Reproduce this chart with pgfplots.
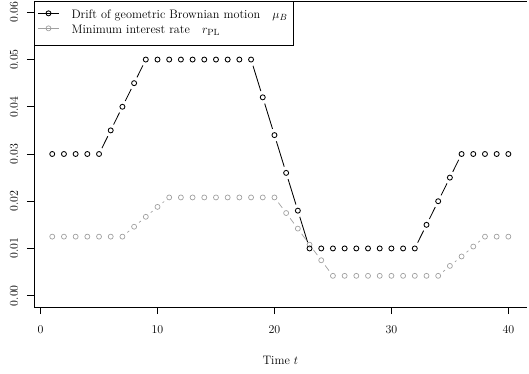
\documentclass[border=0pt]{standalone}
\usepackage{pgfplots}
\pgfplotsset{compat=1.18}
\usepackage{pgfplotstable}
\definecolor{lightgr}{RGB}{160,160,160}

\pgfplotstableread{
t y
1 0.03
2 0.03
3 0.03
4 0.03
5 0.03
6 0.035
7 0.04
8 0.045
9 0.05
10 0.05
11 0.05
12 0.05
13 0.05
14 0.05
15 0.05
16 0.05
17 0.05
18 0.05
19 0.042
20 0.034
21 0.026
22 0.018
23 0.01
24 0.01
25 0.01
26 0.01
27 0.01
28 0.01
29 0.01
30 0.01
31 0.01
32 0.01
33 0.015
34 0.02
35 0.025
36 0.03
37 0.03
38 0.03
39 0.03
40 0.03
}\drift

\pgfplotstableread{
t y
1 0.0125
2 0.0125
3 0.0125
4 0.0125
5 0.0125
6 0.0125
7 0.0125
8 0.0146
9 0.0167
10 0.0188
11 0.0208
12 0.0208
13 0.0208
14 0.0208
15 0.0208
16 0.0208
17 0.0208
18 0.0208
19 0.0208
20 0.0208
21 0.0175
22 0.0142
23 0.0108
24 0.0075
25 0.0042
26 0.0042
27 0.0042
28 0.0042
29 0.0042
30 0.0042
31 0.0042
32 0.0042
33 0.0042
34 0.0042
35 0.0063
36 0.0083
37 0.0104
38 0.0125
39 0.0125
40 0.0125
}\rate

% segments between consecutive points (start, step)
\pgfplotstableread{
t y u v
5 0.03 1 0.005
6 0.035 1 0.005
7 0.04 1 0.005
8 0.045 1 0.005
18 0.05 1 -0.008
19 0.042 1 -0.008
20 0.034 1 -0.008
21 0.026 1 -0.008
22 0.018 1 -0.008
32 0.01 1 0.005
33 0.015 1 0.005
34 0.02 1 0.005
35 0.025 1 0.005
}\driftseg

\pgfplotstableread{
t y u v
7 0.0125 1 0.0021
8 0.0146 1 0.0021
9 0.0167 1 0.0021
10 0.0188 1 0.0020
20 0.0208 1 -0.0033
21 0.0175 1 -0.0033
22 0.0142 1 -0.0034
23 0.0108 1 -0.0033
24 0.0075 1 -0.0033
34 0.0042 1 0.0021
35 0.0063 1 0.0020
36 0.0083 1 0.0021
37 0.0104 1 0.0021
}\rateseg

\begin{document}
\begin{tikzpicture}
\useasboundingbox (0,0) rectangle (529bp,374bp);
\begin{axis}[
  at={(34bp,67bp)}, anchor=south west,
  scale only axis, width=492.6bp, height=306bp,
  xmin=-0.56, xmax=41.56, ymin=-0.0024, ymax=0.0624,
  separate axis lines,
  axis x line=box, axis y line*=left,
  axis line style={-, line width=0.9bp, black},
  xtick={0,10,20,30,40},
  ytick={0,0.01,0.02,0.03,0.04,0.05,0.06},
  xtick pos=bottom, ytick pos=left,
  tick align=outside, major tick length=7bp,
  tick style={line width=0.8bp, black},
  minor tick num=0,
  every tick label/.append style={font=\fontsize{12.3}{14}\selectfont},
  yticklabel style={rotate=90, anchor=south, /pgf/number format/.cd, fixed, fixed zerofill, precision=2},
  yticklabel shift=5.5bp,
  xticklabel shift=8bp,
  scaled y ticks=false,
  xlabel={Time $t$},
  every axis x label/.style={at={(axis description cs:0.5,0)}, anchor=base, yshift=-57bp, font=\fontsize{12.3}{14}\selectfont},
  legend style={at={(axis description cs:0,1)}, anchor=north west,
    draw=black, line width=0.9bp, inner xsep=3bp, inner ysep=7bp,
    column sep=12bp, row sep=0pt,
    nodes={inner sep=0pt, text height=10.3bp, text depth=4.7bp},
    font=\fontsize{12.3}{14}\selectfont},
  legend cell align=left,
  legend image code/.code={
    \draw[#1, sharp plot] (0bp,2.6bp) -- (21bp,2.6bp);
    \draw[#1] plot[only marks] coordinates {(10.5bp,2.6bp)};
  },
]
\addlegendimage{black, line width=1.1bp, mark=o, mark size=2.5bp, mark options={line width=0.85bp}}
\addlegendentry{\makebox[219bp][l]{Drift of geometric Brownian motion\quad$\mu_B$}}
\addlegendimage{lightgr, line width=0.7bp, mark=o, mark size=2.5bp, mark options={line width=0.7bp}}
\addlegendentry{Minimum interest rate\quad$r_{\mathrm{PL}}$}

\addplot[forget plot, lightgr, line width=0.7bp, no marks, quiver={u=\thisrow{u}, v=\thisrow{v}}, shorten <=6.5bp, shorten >=6.5bp] table[x=t, y=y] {\rateseg};
\addplot[forget plot, lightgr, only marks, mark=o, mark size=2.5bp, mark options={line width=0.7bp}] table[x=t, y=y] {\rate};
\addplot[forget plot, black, line width=0.85bp, no marks, quiver={u=\thisrow{u}, v=\thisrow{v}}, shorten <=6.5bp, shorten >=6.5bp] table[x=t, y=y] {\driftseg};
\addplot[forget plot, black, only marks, mark=o, mark size=2.5bp, mark options={line width=0.85bp}] table[x=t, y=y] {\drift};
\end{axis}
\end{tikzpicture}
\end{document}
